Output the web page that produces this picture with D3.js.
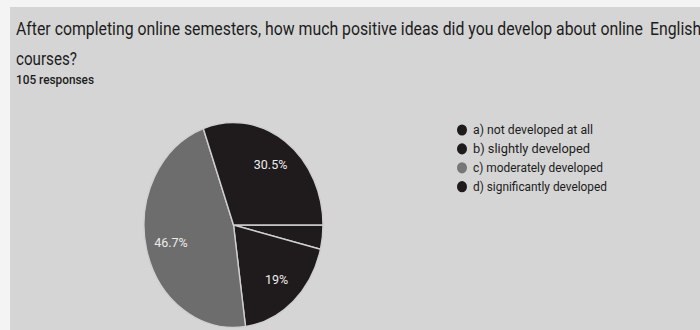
<!DOCTYPE html>
<html>
<head>
<meta charset="utf-8">
<script src="https://cdn.jsdelivr.net/npm/d3@7"></script>
<style>
  html, body { margin: 0; padding: 0; background: #f4f4f4; }
  svg { display: block; }
</style>
</head>
<body>
<div id="chart"></div>
<script>
// answers, counts (105 responses)
const categories = ["a) not developed at all", "b) slightly developed", "c) moderately developed", "d) significantly developed"];
const counts = [4, 20, 49, 32];
const sliceColors = ["#1f1b1c", "#1f1b1c", "#6d6d6d", "#1f1b1c"];
const legendDotColors = ["#1f1b1c", "#1f1b1c", "#777777", "#1f1b1c"];
const titleLine1 = "After completing online semesters, how much positive ideas did you develop about online";
const titleCut = "English";
const titleLine2 = "courses?";
const responsesText = "105 responses";

const width = 700;
const height = 330;
const total = d3.sum(counts);

const svg = d3.select("#chart")
  .append("svg")
  .attr("width", width)
  .attr("height", height)
  .style("font-family", "Roboto, sans-serif");

// picture is a screenshot, slightly stretched in height
const sy = 1.145;

svg.append("rect")
  .attr("x", 10).attr("y", 7)
  .attr("width", width - 10).attr("height", height - 7)
  .attr("fill", "#d5d5d5");

// squeeze text horizontally to a target width
function fit(sel, w) {
  sel.attr("textLength", w).attr("lengthAdjust", "spacingAndGlyphs");
}

// first title line, the last word runs off the right edge like in the screenshot
const t1 = svg.append("text")
  .attr("y", 34.5)
  .attr("font-size", 18.5)
  .attr("fill", "#1c1c1c");
const s1 = t1.append("tspan").attr("x", 16).text(titleLine1);
const natural = s1.node().getComputedTextLength();
const ratio = 627 / natural;
fit(s1, 627);
const s2 = t1.append("tspan").attr("x", 650).text(titleCut);
fit(s2, s2.node().getComputedTextLength() * ratio);

const t2 = svg.append("text")
  .attr("x", 16).attr("y", 64.5)
  .attr("font-size", 18.5)
  .attr("fill", "#1c1c1c")
  .text(titleLine2);
fit(t2, 61);

const t3 = svg.append("text")
  .attr("x", 16).attr("y", 84)
  .attr("font-size", 12)
  .attr("font-weight", 500)
  .attr("fill", "#1c1c1c")
  .text(responsesText);
fit(t3, 78);

// pie
const r = 89.5;
const cx = 233.5, cy = 225;

const pie = d3.pie()
  .sort(null)
  .startAngle(Math.PI / 2)
  .endAngle(Math.PI / 2 + 2 * Math.PI);

const arcs = pie(counts);
const arc = d3.arc().innerRadius(0).outerRadius(r);
const labelArc = d3.arc().innerRadius(r * 0.72).outerRadius(r * 0.72);

const g = svg.append("g")
  .attr("transform", `translate(${cx},${cy}) scale(1,${sy})`);

g.selectAll("path.slice")
  .data(arcs)
  .enter()
  .append("path")
  .attr("class", "slice")
  .attr("d", arc)
  .attr("fill", (d, i) => sliceColors[i])
  .attr("stroke", "#cfcfcf")
  .attr("stroke-width", 1.4)
  .attr("vector-effect", "non-scaling-stroke");

// percent labels (only for the bigger slices)
svg.selectAll("text.pct")
  .data(arcs.filter(d => d.value / total > 0.05))
  .enter()
  .append("text")
  .attr("class", "pct")
  .attr("x", d => cx + labelArc.centroid(d)[0])
  .attr("y", d => cy + labelArc.centroid(d)[1] * sy)
  .attr("dy", "0.36em")
  .attr("text-anchor", "middle")
  .attr("font-size", 12.5)
  .attr("fill", "#ececec")
  .text(d => {
    const p = Math.round(d.value / total * 1000) / 10;
    return p + "%";
  });

// legend
const legendY = d3.scalePoint()
  .domain(categories)
  .range([130, 186.7]);

const legendWidths = [120, 117, 130, 134];

const item = svg.selectAll("g.legend")
  .data(categories)
  .enter()
  .append("g")
  .attr("class", "legend")
  .attr("transform", d => `translate(462,${legendY(d)})`);

item.append("ellipse")
  .attr("rx", 5)
  .attr("ry", 5.6)
  .attr("fill", (d, i) => legendDotColors[i]);

item.append("text")
  .attr("x", 11)
  .attr("dy", 4.3)
  .attr("font-size", 12.5)
  .attr("fill", "#1c1c1c")
  .text(d => d)
  .each(function(d, i) { fit(d3.select(this), legendWidths[i]); });
</script>
</body>
</html>
